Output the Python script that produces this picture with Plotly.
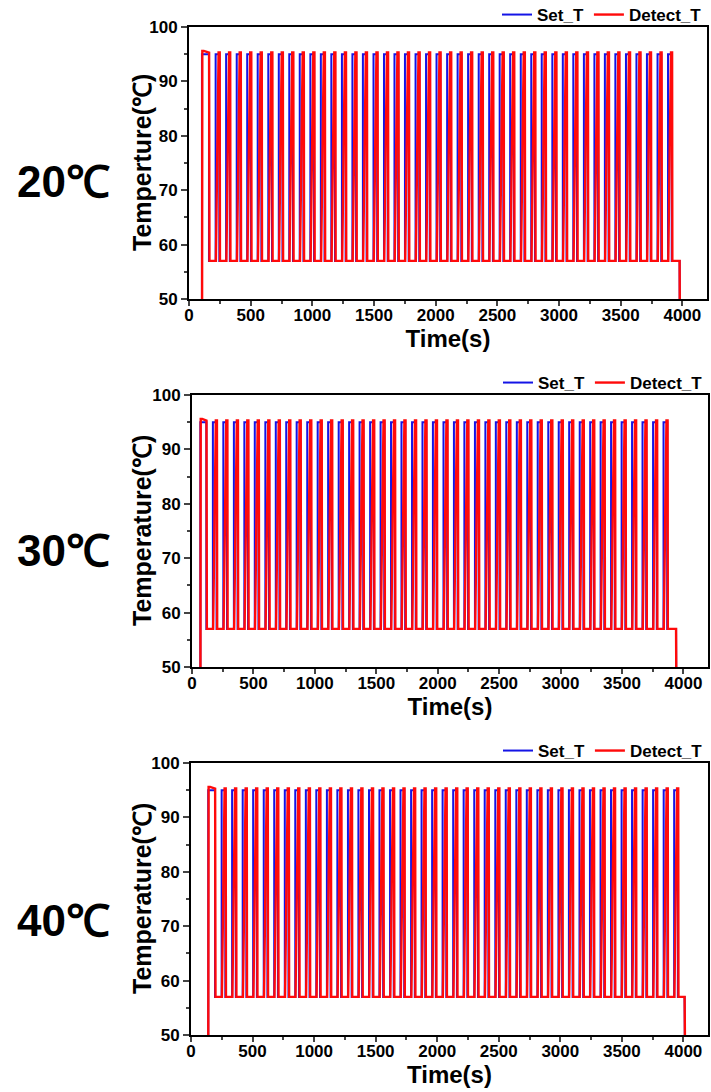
import plotly.graph_objects as go

# ---------------- data ----------------
panel_labels = ["20℃", "30℃", "40℃"]
y_titles = ["Temperture(℃)", "Temperature(℃)", "Temperature(℃)"]
ambient_T = [20, 30, 40]                 # starting / final temperature (below axis)
heat_on_s = [105, 68, 140]               # time of the first step to 95 °C
initial_hold_end_s = [162, 117, 195]     # end of initial denaturation
program_end_s = [3978, 3940, 4010]       # final drop back to ambient

cycle_rise_s_20 = [216, 301, 387, 472, 557, 643, 728, 813, 898, 984, 1069, 1154,
                   1240, 1325, 1410, 1496, 1581, 1666, 1751, 1837, 1922, 2007, 2093,
                   2178, 2263, 2349, 2434, 2519, 2604, 2690, 2775, 2860, 2946, 3031,
                   3116, 3202, 3287, 3372, 3457, 3543, 3628, 3713, 3799, 3884]
cycle_rise_s_30 = [170, 255, 341, 426, 511, 597, 682, 767, 852, 938, 1023, 1108,
                   1194, 1279, 1364, 1450, 1535, 1620, 1705, 1791, 1876, 1961, 2047,
                   2132, 2217, 2303, 2388, 2473, 2558, 2644, 2729, 2814, 2900, 2985,
                   3070, 3156, 3241, 3326, 3411, 3497, 3582, 3667, 3753, 3838]
cycle_rise_s_40 = [249, 334, 420, 505, 591, 676, 762, 847, 933, 1018, 1104, 1189,
                   1275, 1360, 1446, 1531, 1617, 1702, 1788, 1873, 1959, 2044, 2130,
                   2215, 2301, 2386, 2472, 2557, 2643, 2728, 2814, 2899, 2985, 3070,
                   3156, 3241, 3327, 3412, 3498, 3583, 3669, 3754, 3840, 3925]
cycle_rises = [cycle_rise_s_20, cycle_rise_s_30, cycle_rise_s_40]

set_high_T = 95.0
set_low_T = 57.0
detect_high_T = 95.3
detect_overshoot_T = 95.6
denature_hold_s = 30
detect_ramp_s = 24
detect_lag_s = 4

x_ticks = [0, 500, 1000, 1500, 2000, 2500, 3000, 3500, 4000]
y_ticks = [50, 60, 70, 80, 90, 100]

FONT = "Liberation Sans, Arial, sans-serif"
W, H = 711, 1092
# plot boxes in pixels (left, right, top, bottom)
boxes = [(189, 707, 27, 299), (192, 708, 395, 667), (191, 708, 763, 1035)]
label_y_px = [182, 550, 920]
ytitle_x_px = 142

try:
    go.layout.XAxis(ticklabelstandoff=-5)
    TLS = -5
except Exception:
    TLS = 0


def set_profile(i):
    t = [0, heat_on_s[i], heat_on_s[i], initial_hold_end_s[i], initial_hold_end_s[i]]
    T = [ambient_T[i], ambient_T[i], set_high_T, set_high_T, set_low_T]
    for c in cycle_rises[i]:
        t += [c, c, c + denature_hold_s, c + denature_hold_s]
        T += [set_low_T, set_high_T, set_high_T, set_low_T]
    t += [program_end_s[i], program_end_s[i] + 4]
    T += [set_low_T, ambient_T[i]]
    return t, T


def detect_profile(i):
    h0 = heat_on_s[i]
    t = [0, h0, h0 + 3, h0 + 15, initial_hold_end_s[i] + 1, initial_hold_end_s[i] + 4]
    T = [ambient_T[i], ambient_T[i], detect_overshoot_T, detect_overshoot_T,
         detect_high_T, set_low_T]
    for c in cycle_rises[i]:
        t += [c + 2, c + detect_ramp_s, c + denature_hold_s + detect_lag_s - 1,
              c + denature_hold_s + detect_lag_s + 1]
        T += [set_low_T, detect_high_T, detect_high_T, set_low_T]
    t += [program_end_s[i], program_end_s[i] + 6]
    T += [set_low_T, ambient_T[i]]
    return t, T


fig = go.Figure()
layout = dict(
    width=W, height=H,
    margin=dict(l=0, r=0, t=0, b=0, autoexpand=False),
    paper_bgcolor="white", plot_bgcolor="white",
    font=dict(family=FONT, color="black"),
    showlegend=True,
    annotations=[],
)

for i in range(3):
    sfx = "" if i == 0 else str(i + 1)
    L, R, T_, B = boxes[i]
    xd = [L / W, R / W]
    yd = [1 - B / H, 1 - T_ / H]
    leg = "legend" if i == 0 else f"legend{i + 1}"

    ts, Ts = set_profile(i)
    td, Td = detect_profile(i)
    fig.add_trace(go.Scatter(x=ts, y=Ts, mode="lines", name="Set_T",
                             line=dict(color="#1414E6", width=2),
                             xaxis="x" + sfx, yaxis="y" + sfx, legend=leg))
    fig.add_trace(go.Scatter(x=td, y=Td, mode="lines", name="Detect_T",
                             line=dict(color="#FF0A0A", width=2.4),
                             xaxis="x" + sfx, yaxis="y" + sfx, legend=leg))

    layout["xaxis" + sfx] = dict(
        domain=xd, anchor="y" + sfx, range=[0, 4200],
        tickvals=x_ticks, ticks="outside", ticklen=5, tickwidth=2,
        ticklabelstandoff=TLS,
        tickfont=dict(size=17, family=FONT, weight="bold"),
        minor=dict(dtick=250, tick0=0, ticks="outside", ticklen=3, tickwidth=2,
                   showgrid=False),
        showline=True, linecolor="black", linewidth=2, mirror=True,
        showgrid=False, zeroline=False, automargin=False,
        title=dict(text="Time(s)", font=dict(size=24, family=FONT, weight="bold"),
                   standoff=2),
    )
    layout["yaxis" + sfx] = dict(
        domain=yd, anchor="x" + sfx, range=[50, 100],
        tickvals=y_ticks, ticks="outside", ticklen=6, tickwidth=2,
        tickfont=dict(size=17, family=FONT, weight="bold"),
        minor=dict(dtick=5, tick0=50, ticks="outside", ticklen=3, tickwidth=2,
                   showgrid=False),
        showline=True, linecolor="black", linewidth=2, mirror=True,
        showgrid=False, zeroline=False, automargin=False,
    )
    layout[leg] = dict(
        orientation="h", x=R / W, xanchor="right",
        y=1 - (T_ + 6) / H, yanchor="bottom",
        bgcolor="rgba(0,0,0,0)", borderwidth=0,
        font=dict(size=17, family=FONT, weight="bold", color="black"),
        itemwidth=30, tracegroupgap=0,
    )
    # y-axis title (placed as rotated text to sit close to the tick labels)
    layout["annotations"].append(dict(
        text=y_titles[i], x=ytitle_x_px / W, y=1 - (T_ + B) / 2 / H,
        xref="paper", yref="paper", showarrow=False, textangle=-90,
        font=dict(size=25, family=FONT, weight="bold", color="black"),
        xanchor="center", yanchor="middle",
    ))
    layout["annotations"].append(dict(
        text=panel_labels[i], x=63 / W, y=1 - label_y_px[i] / H,
        xref="paper", yref="paper", showarrow=False,
        font=dict(size=44, family=FONT, weight="bold", color="black"),
        xanchor="center", yanchor="middle",
    ))

fig.update_layout(**layout)
fig.write_html("out.html",
               config={"displayModeBar": False},
               post_script="document.body.style.margin='0';document.body.style.padding='0';")
